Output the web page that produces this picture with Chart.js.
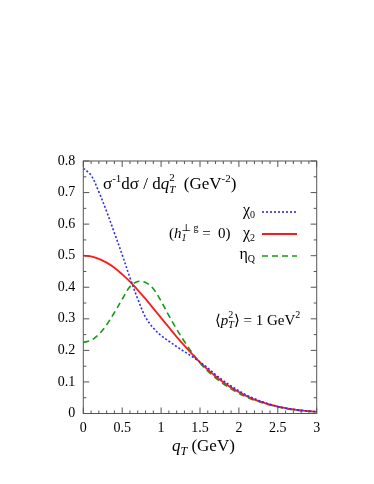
<!DOCTYPE html>
<html>
<head>
<meta charset="utf-8">
<script src="https://cdn.jsdelivr.net/npm/chart.js@4.4.1/dist/chart.umd.min.js"></script>
<style>
  html, body { margin: 0; padding: 0; background: #fff; }
  #wrap { position: relative; width: 374px; height: 484px; }
</style>
</head>
<body>
<div id="wrap"><canvas id="chart" width="374" height="484"></canvas></div>
<script>
/* q_T spectrum, three quarkonium states */

const Q = [0.0, 0.1, 0.2, 0.3, 0.4, 0.5, 0.6, 0.7, 0.8, 0.9, 1.0,
           1.1, 1.2, 1.3, 1.4, 1.5, 1.6, 1.7, 1.8, 1.9, 2.0,
           2.1, 2.2, 2.3, 2.4, 2.5, 2.6, 2.7, 2.8, 2.9, 3.0];

const CHI0 = [0.777, 0.755, 0.702, 0.640, 0.572, 0.503, 0.430, 0.363, 0.305, 0.271, 0.247,
              0.229, 0.212, 0.196, 0.180, 0.163, 0.144, 0.123, 0.104, 0.087, 0.072,
              0.058, 0.047, 0.037, 0.029, 0.022, 0.017, 0.013, 0.010, 0.0075, 0.0055];

const CHI2 = [0.500, 0.498, 0.490, 0.478, 0.462, 0.441, 0.418, 0.391, 0.363, 0.333, 0.303,
              0.273, 0.243, 0.215, 0.188, 0.162, 0.139, 0.118, 0.099, 0.082, 0.068,
              0.055, 0.044, 0.036, 0.028, 0.022, 0.017, 0.013, 0.010, 0.0075, 0.0056];

const ETAQ = [0.225, 0.232, 0.251, 0.281, 0.320, 0.362, 0.402, 0.418, 0.415, 0.395, 0.356,
              0.310, 0.267, 0.228, 0.192, 0.160, 0.134, 0.113, 0.094, 0.078, 0.064,
              0.052, 0.042, 0.034, 0.027, 0.021, 0.016, 0.012, 0.009, 0.007, 0.005];

const X_TICKS = [0, 0.5, 1, 1.5, 2, 2.5, 3];
const Y_TICKS = [0, 0.1, 0.2, 0.3, 0.4, 0.5, 0.6, 0.7, 0.8];

const SERIF = '"Liberation Serif", "DejaVu Serif", serif';
const BLUE  = '#2a2aff';
const RED   = '#ff1a1a';
const GREEN = '#139a13';
const FRAME = '#555';

const pts = (ys) => Q.map((q, i) => ({ x: q, y: ys[i] }));

// text with super/subscripts: [text, size, italic, dy, noAdvance]
function drawRuns(ctx, x, y, parts, align) {
  const font = (p) => (p[2] ? 'italic ' : '') + p[1] + 'px ' + SERIF;
  let w = 0;
  parts.forEach(p => { ctx.font = font(p); if (!p[4]) w += ctx.measureText(p[0]).width; });
  let cx = align === 'right' ? x - w : x;
  parts.forEach(p => {
    ctx.font = font(p);
    ctx.fillText(p[0], cx, y + (p[3] || 0));
    if (!p[4]) cx += ctx.measureText(p[0]).width;
  });
}

function sample(ctx, x0, x1, y, color, dash, width) {
  ctx.save();
  ctx.strokeStyle = color; ctx.lineWidth = width; ctx.setLineDash(dash);
  ctx.beginPath(); ctx.moveTo(x0, y); ctx.lineTo(x1, y); ctx.stroke();
  ctx.restore();
}

const deco = {
  id: 'deco',
  afterDraw(chart) {
    const { ctx, chartArea: a, scales: { x, y } } = chart;
    ctx.save();
    // frame + inward ticks on all four sides
    ctx.strokeStyle = FRAME; ctx.lineWidth = 1;
    ctx.strokeRect(a.left, a.top, a.right - a.left, a.bottom - a.top);
    ctx.beginPath();
    for (let k = 0; k <= 30; k++) {
      const px = x.getPixelForValue(k / 10);
      const len = k % 5 === 0 ? 6 : 3;
      ctx.moveTo(px, a.bottom); ctx.lineTo(px, a.bottom - len);
      ctx.moveTo(px, a.top); ctx.lineTo(px, a.top + len);
    }
    for (let k = 0; k <= 16; k++) {
      const py = y.getPixelForValue(k / 20);
      const len = k % 2 === 0 ? 6 : 3;
      ctx.moveTo(a.left, py); ctx.lineTo(a.left + len, py);
      ctx.moveTo(a.right, py); ctx.lineTo(a.right - len, py);
    }
    ctx.stroke();

    ctx.fillStyle = '#000';
    ctx.textBaseline = 'alphabetic';
    // y-axis quantity, inside the frame
    drawRuns(ctx, 103, 189, [
      ['σ', 17], ['-1', 11, false, -7], ['dσ / d', 17], ['q', 17, true],
      ['2', 11, false, -8, true], ['T', 11, true, 4], ['  (GeV', 17],
      ['-2', 11, false, -7], [')', 17]
    ]);

    // legend
    drawRuns(ctx, 255, 215, [['χ', 16], ['0', 10, false, 3]], 'right');
    sample(ctx, 262, 297, 212, BLUE, [2, 2], 1.6);
    drawRuns(ctx, 255, 237.5, [['χ', 16], ['2', 10, false, 3]], 'right');
    sample(ctx, 262, 297, 234, RED, [], 1.8);
    drawRuns(ctx, 255, 259, [['η', 16], ['Q', 10, false, 3]], 'right');
    sample(ctx, 262, 297, 256, GREEN, [6, 4], 1.6);

    drawRuns(ctx, 169, 237.5, [
      ['(', 15], ['h', 15, true], ['1', 10, true, 3, true], ['⊥ g', 10, false, -7],
      [' =  0)', 15]
    ]);

    drawRuns(ctx, 215, 325, [
      ['⟨', 15], ['p', 15, true], ['2', 10, false, -7, true], ['T', 10, true, 3],
      ['⟩ = 1 GeV', 15], ['2', 10, false, -7]
    ]);

    // x-axis title
    drawRuns(ctx, 172, 451, [['q', 17, true], ['T', 12, true, 4], [' (GeV)', 17]]);
    ctx.restore();
  }
};

new Chart(document.getElementById('chart'), {
  type: 'line',
  data: {
    datasets: [
      { label: 'χ0', data: pts(CHI0), borderColor: BLUE, borderWidth: 1.6, borderDash: [2, 2] },
      { label: 'χ2', data: pts(CHI2), borderColor: RED, borderWidth: 1.8 },
      { label: 'ηQ', data: pts(ETAQ), borderColor: GREEN, borderWidth: 1.6, borderDash: [6, 4] },
    ]
  },
  options: {
    responsive: false,
    animation: false,
    layout: { padding: { left: 0, top: 161, right: 57.3, bottom: 0 } },
    elements: {
      point: { radius: 0 },
      line: { tension: 0.35, fill: false }
    },
    plugins: { legend: { display: false }, tooltip: { enabled: false } },
    scales: {
      x: {
        type: 'linear', min: 0, max: 3,
        afterFit: (s) => { s.height = 70.5; },
        afterBuildTicks: (s) => { s.ticks = X_TICKS.map(v => ({ value: v })); },
        grid: { display: false, drawTicks: false },
        border: { display: false },
        ticks: {
          padding: 6, color: '#000', font: { family: SERIF, size: 14 },
          maxRotation: 0, callback: (v) => String(v)
        }
      },
      y: {
        type: 'linear', min: 0, max: 0.8,
        afterFit: (s) => { s.width = 83.3; },
        afterBuildTicks: (s) => { s.ticks = Y_TICKS.map(v => ({ value: v })); },
        grid: { display: false, drawTicks: false },
        border: { display: false },
        ticks: {
          padding: 8, color: '#000', font: { family: SERIF, size: 14 },
          callback: (v) => String(Math.round(v * 10) / 10)
        }
      }
    }
  },
  plugins: [deco]
});
</script>
</body>
</html>
